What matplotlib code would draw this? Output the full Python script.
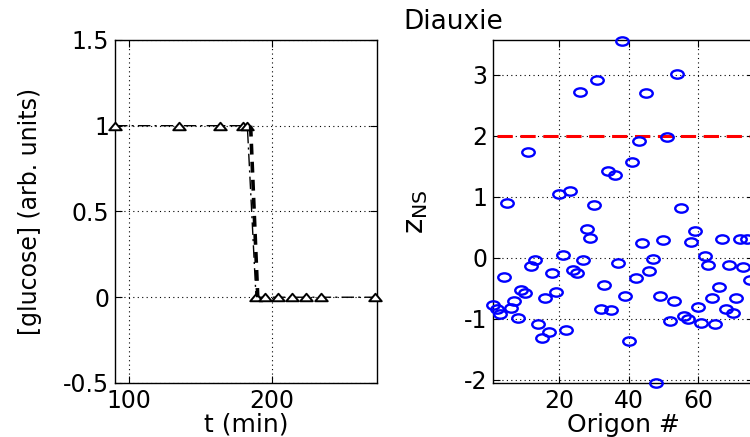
import numpy as np
import matplotlib
matplotlib.use("Agg")
import matplotlib.pyplot as plt
from matplotlib.path import Path
from matplotlib.transforms import Affine2D

# left panel: glucose measurements
t_meas = [90, 135, 163.5, 180, 182.7, 188.8, 195, 204, 214, 223.8, 234, 272]
glucose = [1, 1, 1, 1, 1, 0, 0, 0, 0, 0, 0, 0]
# steep switch drawn as thick dashed line
t_switch = [185, 187.5, 190]
g_switch = [1, 0.5, 0]

# right panel: z_NS per origon
z_ns = [-0.78, -0.84, -0.92, -0.31, 0.90, -0.82, -0.71, -0.98, -0.52, -0.58,
        1.74, -0.13, -0.03, -1.09, -1.31, -0.66, -1.21, -0.24, -0.56, 1.04,
        0.05, -1.18, 1.10, -0.20, -0.25, 2.72, -0.03, 0.48, 0.32, 0.87,
        2.92, -0.83, -0.45, 1.43, -0.86, 1.36, -0.09, 3.56, -0.63, -1.37,
        1.57, -0.33, 1.91, 0.25, 2.70, -0.22, -0.02, -2.05, -0.62, 0.30,
        1.98, -1.03, -0.70, 3.01, 0.82, -0.96, -1.00, 0.26, 0.44, -0.81,
        -1.06, 0.03, -0.11, -0.66, -1.09, -0.48, 0.31, -0.83, -0.12, -0.91,
        -0.66, 0.31, -0.15, 0.31, -0.37]
origon = np.arange(1, len(z_ns) + 1)
threshold = 2
thr_x = [2, 76]

plt.rcParams['font.family'] = 'DejaVu Sans'

# the original picture is stretched sideways, so are its markers
wide_circle = Path.unit_circle().transformed(Affine2D().scale(1.5, 1.0))
wide_tri = Path([(-1, -0.6), (1, -0.6), (0, 0.6), (-1, -0.6)],
                [Path.MOVETO, Path.LINETO, Path.LINETO, Path.CLOSEPOLY])

fig = plt.figure(figsize=(7.5, 4.37), dpi=100)
ax1 = fig.add_axes([0.1533, 0.1236, 0.3493, 0.785])
ax2 = fig.add_axes([0.6577, 0.1236, 0.347, 0.785])


def matlab_style(ax):
    ax.grid(True, color='black', linestyle=(0, (1, 3)), linewidth=0.8)
    ax.tick_params(direction='in', length=5, top=True, right=True,
                   labelsize=17, pad=4)
    for s in ax.spines.values():
        s.set_linewidth(1.0)


ax1.plot(t_meas, glucose, color='black', linestyle=(0, (9, 3, 1.5, 3)),
         linewidth=1.0, marker=wide_tri, markersize=9, markerfacecolor='white',
         markeredgecolor='black', markeredgewidth=1.4, clip_on=False, zorder=3)
ax1.plot(t_switch, g_switch, color='black', linestyle=(0, (3, 2)),
         linewidth=2.6, zorder=4)
ax1.set_xlim(90, 273.5)
ax1.set_ylim(-0.5, 1.5)
ax1.set_xticks([100, 200])
ax1.set_yticks([-0.5, 0, 0.5, 1, 1.5])
ax1.set_yticklabels(['-0.5', '0', '0.5', '1', '1.5'])
ax1.set_xlabel('t (min)', fontsize=18)
ax1.set_ylabel('[glucose] (arb. units)', fontsize=17)
ax1.xaxis.set_label_coords(0.5, -0.087)
ax1.yaxis.set_label_coords(-0.279, 0.5)
matlab_style(ax1)

ax2.plot(origon, z_ns, linestyle='none', marker=wide_circle, markersize=9,
         markerfacecolor='none', markeredgecolor='blue', markeredgewidth=1.7,
         clip_on=False, zorder=3)
ax2.plot(thr_x, [threshold, threshold], color='red', linestyle=(0, (5, 2.5)),
         linewidth=2.2, zorder=2)
ax2.set_xlim(1, 76)
ax2.set_ylim(-2.05, 3.57)
ax2.set_xticks([20, 40, 60])
ax2.set_yticks([-2, -1, 0, 1, 2, 3])
ax2.set_yticklabels(['-2', '-1', '0', '1', '2', '3'])
ax2.set_xlabel('Origon #', fontsize=18)
ax2.set_ylabel(r'$\mathregular{z_{NS}}$', fontsize=21)
ax2.xaxis.set_label_coords(0.5, -0.087)
ax2.yaxis.set_label_coords(-0.243, 0.5)
matlab_style(ax2)

fig.text(0.605, 0.95, 'Diauxie', fontsize=19, ha='center', va='center')

fig.savefig('out.png', dpi=100)
